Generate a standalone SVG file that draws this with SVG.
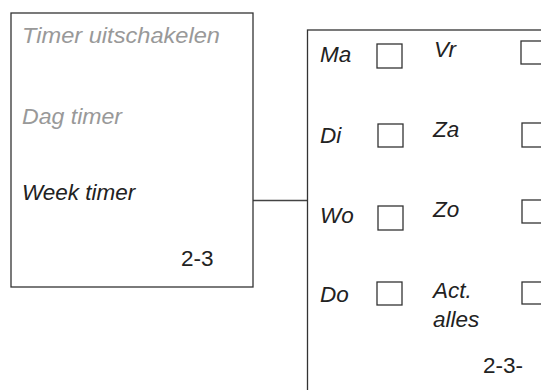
<svg xmlns="http://www.w3.org/2000/svg" width="541" height="390" viewBox="0 0 541 390">
<style>
.box{fill:#fff;stroke:#333;stroke-width:1.3}
.cb{fill:#fff;stroke:#333;stroke-width:1.3}
.t{font-family:"Liberation Sans",Arial,sans-serif;font-style:italic;font-size:22.5px;fill:#222}
.g{fill:#999}
.n{font-family:"Liberation Sans",Arial,sans-serif;font-size:22.5px;fill:#222}
.ln{stroke:#444;stroke-width:1.3;fill:none}
</style>
<rect width="541" height="390" fill="#fff"/>
<g id="connectors">
<line class="ln" x1="253" y1="200.5" x2="307" y2="200.5"/>
</g>
<g id="menu">
<rect class="box" x="11" y="13" width="242" height="274"/>
<text class="t g" x="22" y="43" textLength="198" lengthAdjust="spacingAndGlyphs">Timer uitschakelen</text>
<text class="t g" x="22" y="124" textLength="100" lengthAdjust="spacingAndGlyphs">Dag timer</text>
<text class="t" x="22" y="200">Week timer</text>
<text class="n" x="181" y="266">2-3</text>
</g>
<g id="weekdays">
<rect class="box" x="307.5" y="30" width="250" height="380"/>
<text class="t" x="320" y="62">Ma</text>
<rect class="cb" x="377" y="44" width="25" height="24"/>
<text class="t" x="434" y="57">Vr</text>
<rect class="cb" x="521" y="41" width="25" height="23"/>
<text class="t" x="320" y="143">Di</text>
<rect class="cb" x="378" y="124" width="25" height="23"/>
<text class="t" x="433" y="137">Za</text>
<rect class="cb" x="522" y="123" width="25" height="24"/>
<text class="t" x="320" y="223">Wo</text>
<rect class="cb" x="378" y="206" width="25" height="24"/>
<text class="t" x="433" y="217">Zo</text>
<rect class="cb" x="522" y="200" width="25" height="23"/>
<text class="t" x="320" y="302">Do</text>
<rect class="cb" x="377" y="282" width="25" height="23"/>
<text class="t" x="433" y="298">Act.</text>
<text class="t" x="433" y="327">alles</text>
<rect class="cb" x="522" y="282" width="25" height="22"/>
<text class="n" x="483" y="373">2-3-</text>
</g>
</svg>
